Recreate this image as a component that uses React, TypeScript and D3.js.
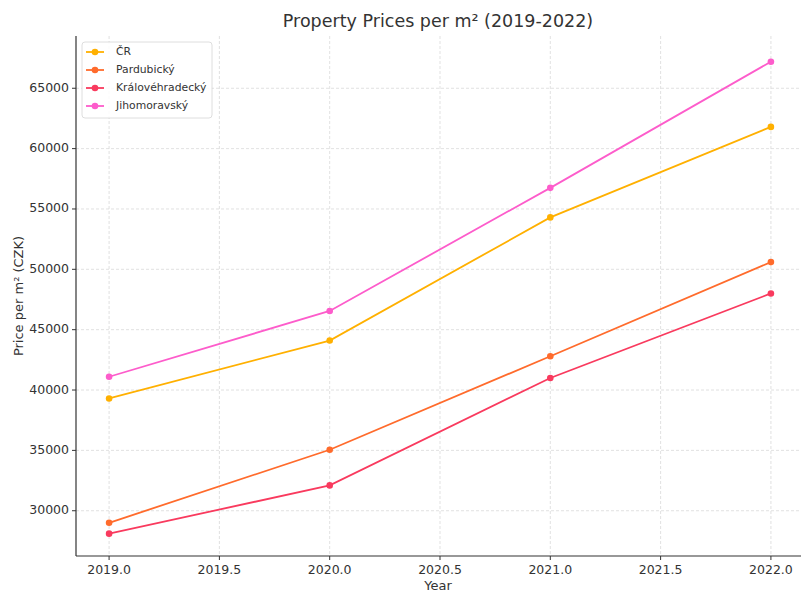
import React from 'react';
import * as d3 from 'd3';

const years = [2019, 2020, 2021, 2022];
const regions = ['ČR', 'Pardubický', 'Královéhradecký', 'Jihomoravský'];
const cr = [39300, 44100, 54300, 61800];
const pardubicky = [29000, 35050, 42800, 50600];
const kralovehradecky = [28100, 32100, 41000, 48000];
const jihomoravsky = [41100, 46550, 56750, 67200];
const colors = ['#ffb000', '#ff6b2c', '#f93a5e', '#fd5ccb'];
const xTicks = [2019, 2019.5, 2020, 2020.5, 2021, 2021.5, 2022];
const yTicks = [30000, 35000, 40000, 45000, 50000, 55000, 60000, 65000];

const W = 801;
const H = 593;
const font = 'DejaVu Sans, sans-serif';

const App = () => {
  const series = [cr, pardubicky, kralovehradecky, jihomoravsky];
  const x = d3.scaleLinear().domain([2018.85, 2022.15]).range([76, 804]);
  const y = d3.scaleLinear().domain([26250, 69330]).range([556, 36]);
  const line = d3
    .line<number>()
    .x((_, i) => x(years[i]))
    .y((d) => y(d));

  return (
    <svg
      width={W}
      height={H}
      style={{ position: 'absolute', left: 0, top: 0, background: '#fff' }}
      fontFamily={font}
    >
      {/* grid */}
      {xTicks.map((t) => (
        <line key={`gx${t}`} x1={x(t)} x2={x(t)} y1={36} y2={556}
          stroke="#d9d9d9" strokeWidth={0.8} strokeDasharray="3,2" />
      ))}
      {yTicks.map((t) => (
        <line key={`gy${t}`} x1={76} x2={W} y1={y(t)} y2={y(t)}
          stroke="#d9d9d9" strokeWidth={0.8} strokeDasharray="3,2" />
      ))}

      {/* lines */}
      {series.map((s, i) => (
        <g key={regions[i]}>
          <path d={line(s) || ''} fill="none" stroke={colors[i]} strokeWidth={1.8} />
          {s.map((v, j) => (
            <circle key={j} cx={x(years[j])} cy={y(v)} r={3.3} fill={colors[i]} />
          ))}
        </g>
      ))}

      {/* spines */}
      <line x1={76} x2={76} y1={36} y2={556} stroke="#333" strokeWidth={1.2} />
      <line x1={76} x2={W} y1={556} y2={556} stroke="#333" strokeWidth={1.2} />

      {/* x ticks */}
      {xTicks.map((t) => (
        <g key={`tx${t}`}>
          <line x1={x(t)} x2={x(t)} y1={556} y2={560} stroke="#333" strokeWidth={1} />
          <text x={x(t)} y={570} textAnchor="middle" dominantBaseline="middle"
            fontSize={12.5} fill="#333">{t.toFixed(1)}</text>
        </g>
      ))}
      {/* y ticks */}
      {yTicks.map((t) => (
        <g key={`ty${t}`}>
          <line x1={72} x2={76} y1={y(t)} y2={y(t)} stroke="#333" strokeWidth={1} />
          <text x={69} y={y(t)} textAnchor="end" dominantBaseline="middle"
            fontSize={12.5} fill="#333">{t}</text>
        </g>
      ))}

      {/* labels */}
      <text x={438} y={586} textAnchor="middle" dominantBaseline="middle" fontSize={13} fill="#333">Year</text>
      <text transform={`translate(19,${296}) rotate(-90)`} textAnchor="middle"
        dominantBaseline="middle" fontSize={13} fill="#333">Price per m² (CZK)</text>
      <text x={438} y={22} textAnchor="middle" dominantBaseline="middle" fontSize={17.5} fill="#333">
        Property Prices per m² (2019-2022)
      </text>

      {/* legend */}
      <rect x={82} y={42} width={130} height={76} rx={3} fill="#fff" fillOpacity={0.85}
        stroke="#d6d6d6" strokeWidth={0.8} />
      {regions.map((r, i) => {
        const ly = 52 + i * 18;
        return (
          <g key={`lg${r}`}>
            <line x1={86} x2={104} y1={ly} y2={ly} stroke={colors[i]} strokeWidth={1.8} />
            <circle cx={95} cy={ly} r={3.3} fill={colors[i]} />
            <text x={116} y={ly} dominantBaseline="middle" fontSize={10.8} fill="#333">{r}</text>
          </g>
        );
      })}
    </svg>
  );
};

export default App;
